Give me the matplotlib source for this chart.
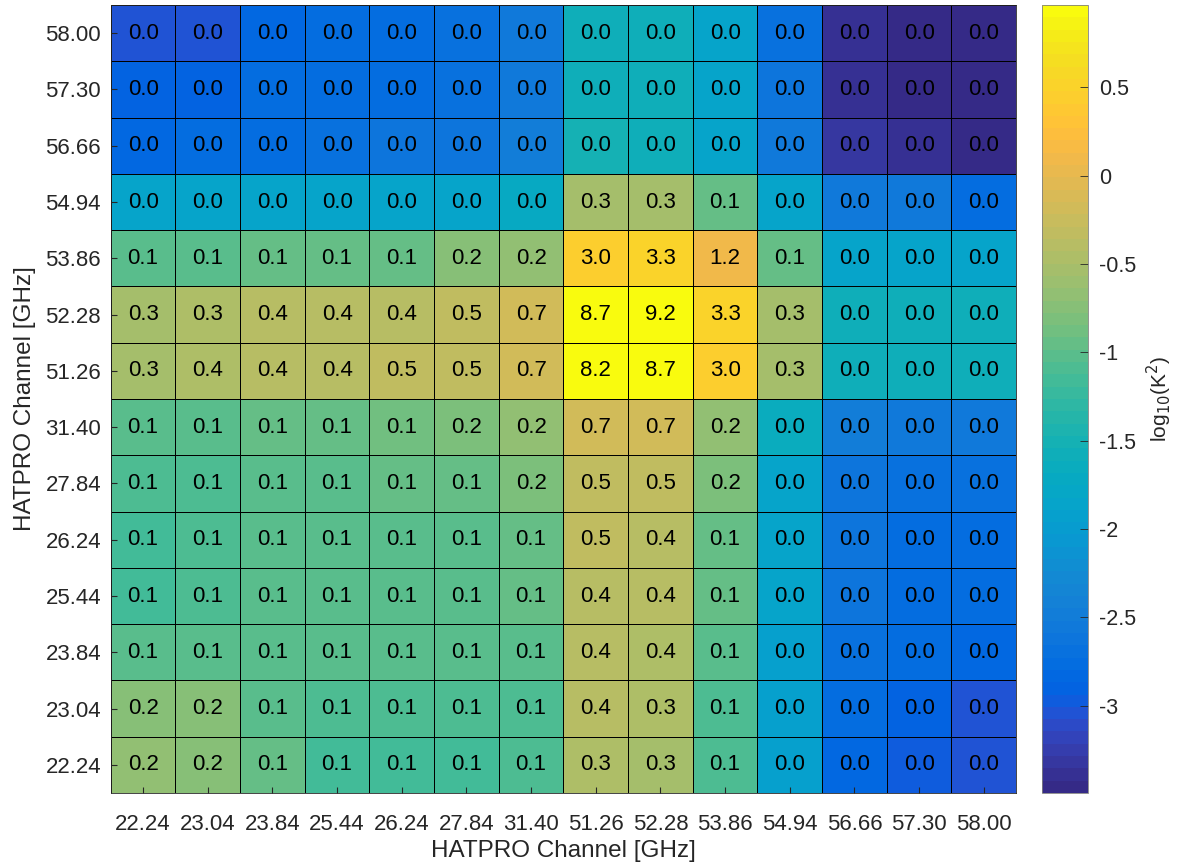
import numpy as np
import matplotlib
matplotlib.use("Agg")
import matplotlib.pyplot as plt
from matplotlib.colors import ListedColormap

plt.rcParams["font.family"] = ["Liberation Sans", "DejaVu Sans"]

# HATPRO channels (GHz), bottom-to-top on y, left-to-right on x
channels = [22.24, 23.04, 23.84, 25.44, 26.24, 27.84, 31.40,
            51.26, 52.28, 53.86, 54.94, 56.66, 57.30, 58.00]
channel_labels = ["%.2f" % c for c in channels]

# covariance values [K^2], row = y channel (22.24 first), col = x channel
row_2224 = [0.20, 0.18, 0.11, 0.07, 0.07, 0.07, 0.085, 0.34, 0.30, 0.085, 0.012, 0.0015, 0.0011, 0.00085]
row_2304 = [0.18, 0.18, 0.10, 0.08, 0.08, 0.08, 0.085, 0.38, 0.34, 0.085, 0.012, 0.0016, 0.0013, 0.0009]
row_2384 = [0.10, 0.10, 0.10, 0.09, 0.09, 0.095, 0.10, 0.38, 0.36, 0.09, 0.012, 0.002, 0.0017, 0.0015]
row_2544 = [0.07, 0.075, 0.09, 0.095, 0.095, 0.095, 0.105, 0.42, 0.40, 0.105, 0.013, 0.0022, 0.0018, 0.0016]
row_2624 = [0.07, 0.075, 0.09, 0.095, 0.095, 0.10, 0.115, 0.46, 0.42, 0.115, 0.013, 0.0022, 0.0018, 0.0017]
row_2784 = [0.075, 0.085, 0.095, 0.10, 0.105, 0.115, 0.16, 0.50, 0.50, 0.16, 0.015, 0.0023, 0.002, 0.002]
row_3140 = [0.10, 0.10, 0.105, 0.115, 0.125, 0.16, 0.20, 0.70, 0.70, 0.20, 0.022, 0.0035, 0.003, 0.0028]
row_5126 = [0.30, 0.36, 0.40, 0.42, 0.46, 0.50, 0.70, 8.2, 8.7, 3.0, 0.30, 0.028, 0.026, 0.025]
row_5228 = [0.30, 0.32, 0.38, 0.40, 0.42, 0.50, 0.70, 8.7, 9.24, 3.3, 0.30, 0.028, 0.028, 0.026]
row_5386 = [0.095, 0.095, 0.105, 0.115, 0.115, 0.17, 0.20, 3.0, 3.3, 1.2, 0.115, 0.013, 0.013, 0.013]
row_5494 = [0.013, 0.013, 0.013, 0.013, 0.013, 0.013, 0.02, 0.30, 0.30, 0.115, 0.013, 0.0027, 0.0027, 0.0018]
row_5666 = [0.0015, 0.0016, 0.0018, 0.002, 0.0023, 0.0023, 0.0032, 0.029, 0.028, 0.013, 0.0026, 0.00045, 0.0004, 0.00037]
row_5730 = [0.0012, 0.0013, 0.0017, 0.0018, 0.0018, 0.002, 0.003, 0.028, 0.027, 0.013, 0.0025, 0.0004, 0.00035, 0.00033]
row_5800 = [0.00085, 0.0009, 0.0015, 0.0016, 0.0017, 0.002, 0.0028, 0.028, 0.027, 0.014, 0.0019, 0.00038, 0.00033, 0.00032]

cov = np.array([row_2224, row_2304, row_2384, row_2544, row_2624, row_2784, row_3140,
                row_5126, row_5228, row_5386, row_5494, row_5666, row_5730, row_5800])

# MATLAB parula (64 colours)
parula = ListedColormap([
    [0.2081, 0.1663, 0.5292], [0.2116, 0.1898, 0.5777], [0.2123, 0.2138, 0.6270], [0.2081, 0.2386, 0.6771],
    [0.1959, 0.2645, 0.7279], [0.1707, 0.2919, 0.7792], [0.1253, 0.3242, 0.8303], [0.0591, 0.3598, 0.8683],
    [0.0117, 0.3875, 0.8820], [0.0060, 0.4086, 0.8828], [0.0165, 0.4266, 0.8786], [0.0329, 0.4430, 0.8720],
    [0.0498, 0.4586, 0.8641], [0.0629, 0.4737, 0.8554], [0.0723, 0.4887, 0.8467], [0.0779, 0.5040, 0.8384],
    [0.0793, 0.5200, 0.8312], [0.0749, 0.5375, 0.8263], [0.0641, 0.5570, 0.8240], [0.0488, 0.5772, 0.8228],
    [0.0343, 0.5966, 0.8199], [0.0265, 0.6137, 0.8135], [0.0239, 0.6287, 0.8038], [0.0231, 0.6418, 0.7913],
    [0.0228, 0.6535, 0.7768], [0.0267, 0.6642, 0.7607], [0.0384, 0.6743, 0.7436], [0.0590, 0.6838, 0.7254],
    [0.0843, 0.6928, 0.7062], [0.1133, 0.7015, 0.6859], [0.1453, 0.7098, 0.6646], [0.1801, 0.7177, 0.6424],
    [0.2178, 0.7250, 0.6193], [0.2586, 0.7317, 0.5954], [0.3022, 0.7376, 0.5712], [0.3482, 0.7424, 0.5473],
    [0.3953, 0.7459, 0.5244], [0.4420, 0.7481, 0.5033], [0.4871, 0.7491, 0.4840], [0.5300, 0.7491, 0.4661],
    [0.5709, 0.7485, 0.4494], [0.6099, 0.7473, 0.4337], [0.6473, 0.7456, 0.4188], [0.6834, 0.7435, 0.4044],
    [0.7184, 0.7411, 0.3905], [0.7525, 0.7384, 0.3768], [0.7858, 0.7356, 0.3633], [0.8185, 0.7327, 0.3498],
    [0.8507, 0.7299, 0.3360], [0.8824, 0.7274, 0.3217], [0.9139, 0.7258, 0.3063], [0.9450, 0.7261, 0.2886],
    [0.9739, 0.7314, 0.2666], [0.9938, 0.7455, 0.2403], [0.9990, 0.7653, 0.2164], [0.9955, 0.7861, 0.1967],
    [0.9880, 0.8066, 0.1794], [0.9789, 0.8271, 0.1633], [0.9697, 0.8481, 0.1475], [0.9626, 0.8705, 0.1309],
    [0.9589, 0.8949, 0.1132], [0.9598, 0.9218, 0.0948], [0.9661, 0.9514, 0.0755], [0.9763, 0.9831, 0.0538],
])

fig = plt.figure(figsize=(11.83, 8.65), dpi=100)
ax = fig.add_axes([0.0936, 0.0832, 0.7653, 0.911])
cax = fig.add_axes([0.8808, 0.0832, 0.0389, 0.911])

n = len(channels)
edges = np.arange(n + 1) - 0.5
mesh = ax.pcolormesh(edges, edges, np.log10(cov), cmap=parula,
                     edgecolors="k", linewidth=0.5)

for i in range(n):
    for j in range(n):
        ax.text(j, i, "%.1f" % cov[i, j], ha="center", va="center",
                fontsize=16, color="k")

ax.set_xlim(-0.5, n - 0.5)
ax.set_ylim(-0.5, n - 0.5)
ax.set_xticks(range(n))
ax.set_yticks(range(n))
ax.set_xticklabels(channel_labels)
ax.set_yticklabels(channel_labels)
ax.tick_params(direction="in", length=4, labelsize=16, labelcolor="0.15", color="0.15", pad=7)
ax.tick_params(axis="x", pad=15)
for s in ax.spines.values():
    s.set_color("0.15")
    s.set_linewidth(0.6)
ax.set_xlabel("HATPRO Channel [GHz]", fontsize=17.5, color="0.15", labelpad=4)
ax.set_ylabel("HATPRO Channel [GHz]", fontsize=17.5, color="0.15", labelpad=7)

cb = fig.colorbar(mesh, cax=cax)
cb_ticks = [-3, -2.5, -2, -1.5, -1, -0.5, 0, 0.5]
cb.set_ticks(cb_ticks)
cb.set_ticklabels(["%g" % t for t in cb_ticks])
cb.ax.tick_params(direction="in", length=6, labelsize=15.5, labelcolor="0.15", color="0.15", width=0.6, pad=8)
cb.outline.set_edgecolor("0.5")
cb.outline.set_linewidth(0.6)
cb.set_label("log$_{10}$(K$^2$)", fontsize=15, color="0.15", labelpad=6)

fig.savefig("out.png", dpi=100)
